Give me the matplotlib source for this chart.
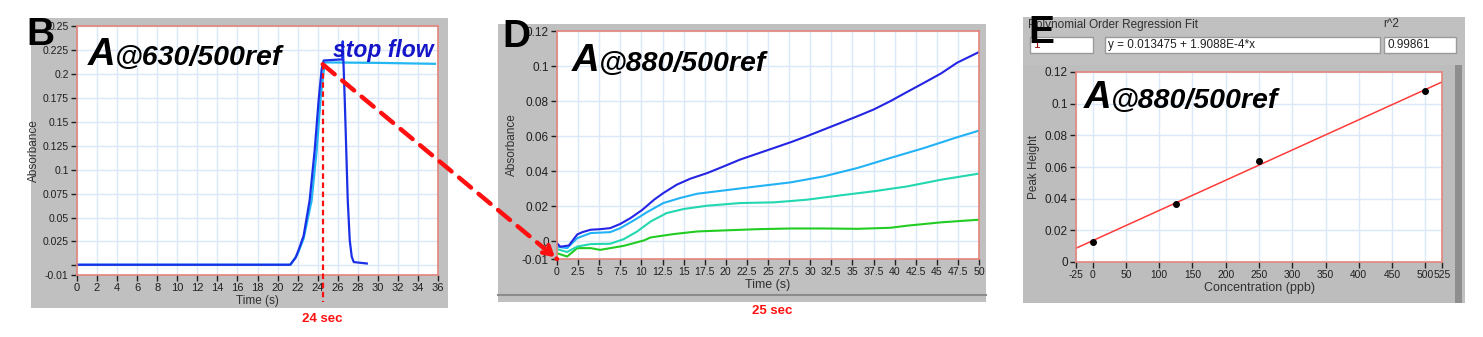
import numpy as np
import matplotlib
matplotlib.use("Agg")
import matplotlib.pyplot as plt
from matplotlib.patches import Rectangle, ConnectionPatch

# ---- data ----
# panel B: absorbance at 630 nm, two injections
b_t_blue = [0, 21.25, 21.8, 22.2, 22.6, 23.2, 23.7, 24.1, 24.4, 24.6, 26.2, 26.45, 26.5, 26.7, 27.0, 27.2, 27.4, 27.6, 28.9]
b_a_blue = [0.0007, 0.0007, 0.008, 0.019, 0.031, 0.068, 0.12, 0.173, 0.205, 0.214, 0.215, 0.215, 0.234, 0.173, 0.068, 0.026, 0.009, 0.0035, 0.002]
b_t_cyan = [0, 21.3, 22.0, 22.6, 23.4, 23.9, 24.3, 24.7, 30, 35.7]
b_a_cyan = [0.0007, 0.0007, 0.012, 0.028, 0.068, 0.12, 0.175, 0.212, 0.2115, 0.2105]

# panel D: absorbance at 880 nm after stop flow, four standards
d_t_1 = [0, 0.4, 1.4, 2.4, 3, 4, 5.1, 6.3, 7.5, 8.7, 10.1, 11.5, 12.6, 14.2, 15.8, 17.8, 19.8, 21.7,
         23.7, 25.7, 27.7, 29.6, 31.6, 33.6, 35.6, 37.5, 39.5, 41.5, 43.5, 45.5, 47.4, 50]
d_a_1 = [-0.001, -0.003, -0.0023, 0.004, 0.0053, 0.0067, 0.007, 0.0076, 0.01, 0.0133, 0.018, 0.0238,
         0.0276, 0.0324, 0.0358, 0.039, 0.0429, 0.0467, 0.05, 0.0533, 0.0566, 0.06, 0.0638, 0.0676,
         0.0714, 0.0752, 0.08, 0.0853, 0.0905, 0.0958, 0.1019, 0.108]
d_t_2 = [0, 1.2, 2.4, 4, 6.3, 7.5, 9.1, 10.7, 12.6, 14.6, 16.6, 19.8, 23.7, 27.7, 31.6, 35.6, 39.5, 43.5, 47.4, 50]
d_a_2 = [-0.003, -0.0038, 0.0019, 0.0048, 0.0053, 0.0076, 0.012, 0.0168, 0.0219, 0.0248, 0.0272, 0.0291,
         0.0314, 0.0337, 0.0371, 0.0419, 0.0476, 0.0533, 0.0594, 0.0632]
d_t_3 = [0, 1.2, 2.4, 4, 6.3, 7.9, 9.5, 11.1, 13, 15, 17.8, 21.7, 25.7, 29.6, 33.6, 37.5, 41.5, 45.5, 50]
d_a_3 = [-0.0044, -0.006, -0.0029, -0.0015, -0.0013, 0.0013, 0.0057, 0.0114, 0.0162, 0.0185, 0.0204,
         0.0219, 0.0223, 0.0238, 0.0263, 0.0286, 0.0314, 0.0352, 0.0387]
d_t_4 = [0, 1.2, 2.4, 4, 5.1, 7.9, 10.3, 11.1, 13.8, 16.6, 19.8, 23.7, 27.7, 31.6, 35.6, 39.5, 41.5, 45.5, 50]
d_a_4 = [-0.0067, -0.0086, -0.0038, -0.0038, -0.0048, -0.0025, 0.0006, 0.0023, 0.0042, 0.0057, 0.0063,
         0.007, 0.0074, 0.0074, 0.0072, 0.0078, 0.009, 0.0109, 0.0124]

# panel E: calibration
e_conc = [0, 125, 250, 500]
e_peak = [0.0129, 0.0368, 0.0635, 0.1081]
fit_b0 = 0.013475
fit_b1 = 1.9088E-4
r2 = 0.99861

b_yticks = [-0.01, 0, 0.025, 0.05, 0.075, 0.1, 0.125, 0.15, 0.175, 0.2, 0.225, 0.25]
b_ylabels = ['-0.01', '', '0.025', '0.05', '0.075', '0.1', '0.125', '0.15', '0.175', '0.2', '0.225', '0.25']
b_xticks = list(range(0, 37, 2))
d_xticks = list(np.arange(0, 50.1, 2.5))
d_yticks = [-0.01, 0, 0.02, 0.04, 0.06, 0.08, 0.1, 0.12]
e_xticks = [-25, 0, 50, 100, 150, 200, 250, 300, 350, 400, 450, 500, 525]
e_yticks = [0, 0.02, 0.04, 0.06, 0.08, 0.1, 0.12]

# ---- layout helpers (pixel boxes on a 1483x337 canvas) ----
W, H = 1483, 337
fig = plt.figure(figsize=(W / 100, H / 100), dpi=100)

def box(x0, y0, x1, y1):
    return [x0 / W, 1 - y1 / H, (x1 - x0) / W, (y1 - y0) / H]

def pt(x, y):
    return x / W, 1 - y / H

GRAY = '#c0c0c0'
GRID = '#dbe8f7'
SPINE = '#e4857c'
NARROW = 'Liberation Sans'
BOLD = 'Liberation Sans'

def gray_panel(x0, y0, x1, y1, color=GRAY):
    fig.add_artist(Rectangle(pt(x0, y1), (x1 - x0) / W, (y1 - y0) / H,
                             transform=fig.transFigure, facecolor=color, edgecolor='none', zorder=0))

def white_box(x0, y0, x1, y1, txt, color='#202020'):
    fig.add_artist(Rectangle(pt(x0, y1), (x1 - x0) / W, (y1 - y0) / H,
                             transform=fig.transFigure, facecolor='white',
                             edgecolor='#9a9a9a', lw=1.0, zorder=1))
    fig.text(*pt(x0 + 3, (y0 + y1) / 2), txt, ha='left', va='center',
             fontsize=8.5, family=NARROW, color=color, zorder=2)

def style(ax, fs, xfs=None):
    ax.set_facecolor('white')
    for s in ax.spines.values():
        s.set_color(SPINE)
        s.set_linewidth(1.2)
    ax.grid(True, color=GRID, lw=1.0)
    ax.set_axisbelow(True)
    ax.tick_params(direction='out', length=4, width=1, color='#202020',
                   labelsize=fs, labelcolor='#202020', pad=2)
    if xfs:
        ax.tick_params(axis='x', labelsize=xfs)
    for lab in ax.get_xticklabels() + ax.get_yticklabels():
        lab.set_family(NARROW)

def title_text(x, base, label):
    fig.text(*pt(x, base), 'A', ha='left', va='baseline', fontsize=27.5,
             weight='bold', style='italic', family=BOLD, zorder=5)
    fig.text(*pt(x + 27, base), '@' + label, ha='left', va='baseline', fontsize=20.5,
             weight='bold', style='italic', family=BOLD, zorder=5)

# ---- panel B ----
gray_panel(31, 18, 448, 308)
axB = fig.add_axes(box(77, 26, 438, 275))
axB.plot(b_t_cyan, b_a_cyan, color='#22b6f2', lw=1.6)
axB.plot(b_t_blue, b_a_blue, color='#1a30e6', lw=1.6)
axB.set_xlim(0, 36)
axB.set_ylim(-0.01, 0.25)
axB.set_xticks(b_xticks)
axB.set_yticks(b_yticks)
axB.set_yticklabels(b_ylabels)
style(axB, 7.5, xfs=8)
axB.set_xlabel('Time (s)', fontsize=8.5, family=NARROW, color='#303030', labelpad=1)
axB.set_ylabel('Absorbance', fontsize=8.5, family=NARROW, color='#303030', labelpad=2)
axB.plot([24.5, 24.5], [0.21, -0.038], color='#ff1010', lw=1.6, ls=(0, (2.5, 1.6)),
         clip_on=False, zorder=6)
axB.text(25.5, 0.218, 'stop flow', fontsize=16.5, weight='bold', style='italic',
         family=BOLD, color='#1414c8', ha='left', va='baseline', zorder=5)
fig.text(*pt(322, 319), '24 sec', ha='center', va='center', fontsize=9.5,
         weight='bold', family=BOLD, color='#ff1010')
title_text(88, 65, '630/500ref')
fig.text(*pt(26, 45), 'B', ha='left', va='baseline', fontsize=28, weight='bold', family=BOLD, zorder=7)

# ---- panel D ----
gray_panel(498, 24, 986, 302)
fig.add_artist(plt.Line2D([498 / W, 986 / W], [1 - 295 / H] * 2, transform=fig.transFigure,
                          color='#8c8c8c', lw=1.5, zorder=1))
axD = fig.add_axes(box(557, 31, 979, 259))
axD.plot(d_t_4, d_a_4, color='#22cc22', lw=1.5)
axD.plot(d_t_3, d_a_3, color='#22d8b0', lw=1.5)
axD.plot(d_t_2, d_a_2, color='#22b2f6', lw=1.5)
axD.plot(d_t_1, d_a_1, color='#2424e4', lw=1.5)
axD.set_xlim(0, 50)
axD.set_ylim(-0.01, 0.12)
axD.set_xticks(d_xticks)
axD.set_xticklabels(['%g' % v for v in d_xticks])
axD.set_yticks(d_yticks)
axD.set_yticklabels(['%g' % v for v in d_yticks])
style(axD, 8.5, xfs=7.6)
axD.set_xlabel('Time (s)', fontsize=9, family=NARROW, color='#303030', labelpad=1)
axD.set_ylabel('Absorbance', fontsize=8.5, family=NARROW, color='#303030', labelpad=3)
fig.text(*pt(772, 311), '25 sec', ha='center', va='center', fontsize=9.5,
         weight='bold', family=BOLD, color='#ff1010')
title_text(572, 71, '880/500ref')
fig.text(*pt(502, 47), 'D', ha='left', va='baseline', fontsize=28, weight='bold', family=BOLD, zorder=7)

# dashed arrow from the stop-flow point in B to t=0 in D
con = ConnectionPatch(xyA=(24.5, 0.21), coordsA=axB.transData,
                      xyB=(0, -0.01), coordsB=axD.transData,
                      color='#ff1010', lw=3.2, ls=(0, (3.5, 2.2)), zorder=8)
fig.add_artist(con)
axD.annotate('', xy=(0, -0.01), xytext=(-11, 9.5), textcoords='offset points',
             arrowprops=dict(arrowstyle='->,head_length=0.6,head_width=0.35',
                             color='#ff1010', lw=3.2), annotation_clip=False, zorder=9)

# ---- panel E ----
gray_panel(1023, 17, 1465, 303)
gray_panel(1023, 65, 1455, 303, color='#bdbdbd')
gray_panel(1455, 65, 1462, 303, color='#8e8e8e')
fig.text(*pt(1028, 25), 'Polynomial Order Regression Fit', ha='left', va='center',
         fontsize=8.5, family=NARROW, color='#303030')
fig.text(*pt(1383, 24), 'r^2', ha='left', va='center', fontsize=8.5, family=NARROW, color='#303030')
white_box(1030, 37, 1093, 53, '1', color='#a01010')
white_box(1105, 37, 1380, 53, 'y = %g + %gE-4*x' % (fit_b0, fit_b1 * 1e4))
white_box(1384, 37, 1456, 53, '%g' % r2)

axE = fig.add_axes(box(1076, 72, 1442, 262))
xf = np.array([-25, 525])
axE.plot(xf, fit_b0 + fit_b1 * xf, color='#ff3b3b', lw=1.1)
axE.scatter(e_conc, e_peak, s=16, color='black', zorder=4)
axE.set_xlim(-25, 525)
axE.set_ylim(0, 0.12)
axE.set_xticks(e_xticks)
axE.set_xticklabels(['%g' % v for v in e_xticks])
axE.set_yticks(e_yticks)
axE.set_yticklabels(['%g' % v for v in e_yticks])
style(axE, 8.5, xfs=7.4)
axE.set_xlabel('Concentration (ppb)', fontsize=9, family=NARROW, color='#303030', labelpad=1)
axE.set_ylabel('Peak Height', fontsize=8.5, family=NARROW, color='#303030', labelpad=3)
title_text(1084, 108, '880/500ref')
fig.text(*pt(1028, 43), 'E', ha='left', va='baseline', fontsize=28, weight='bold', family=BOLD, zorder=7)

fig.savefig('out.png', dpi=100, facecolor='white')
